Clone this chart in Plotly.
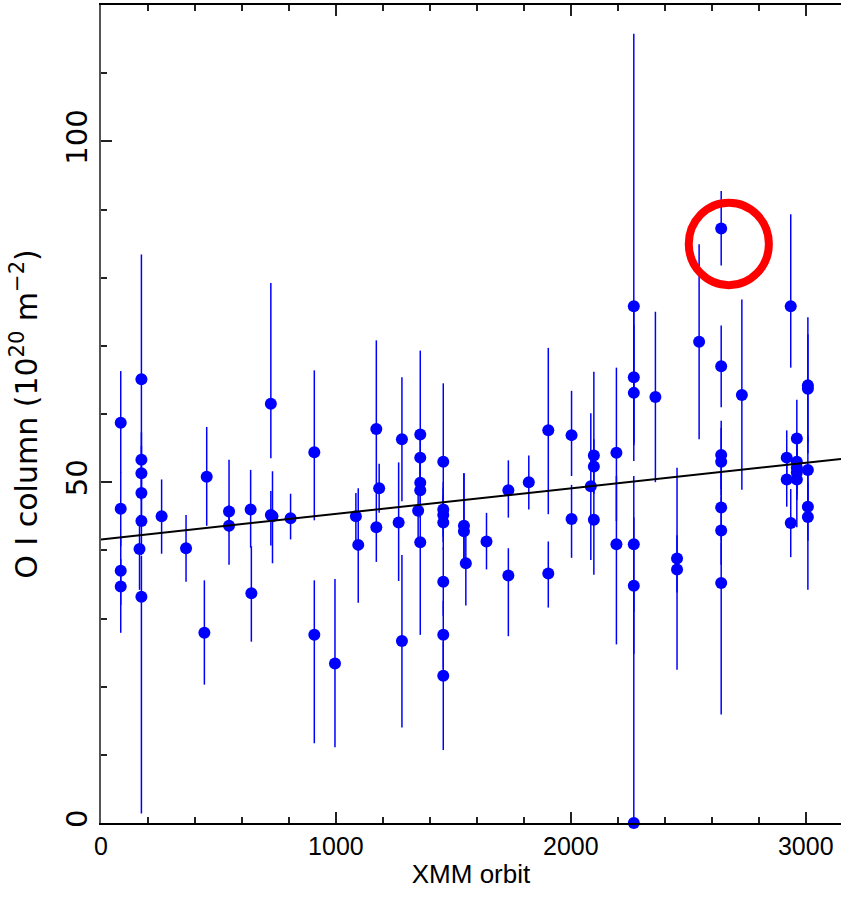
import plotly.graph_objects as go

# Observations: XMM orbit, O I column (1e20 m^-2), upper / lower error
orbit = [84, 84, 84, 84,
         172, 172, 172, 172, 172, 164, 172,
         258, 362, 450, 440, 545, 545, 637, 640,
         723, 723, 730, 807, 908, 908, 996,
         1085, 1095, 1172, 1172, 1184, 1267, 1281, 1281,
         1359, 1359, 1359, 1359, 1350, 1359,
         1457, 1457, 1457, 1457, 1457, 1457, 1457,
         1545, 1545, 1553, 1641, 1734, 1734, 1821,
         1904, 1904, 2003, 2003, 2098, 2098, 2085, 2098,
         2194, 2194, 2268, 2268, 2268, 2268, 2268, 2268,
         2360, 2452, 2452, 2546,
         2640, 2640, 2640, 2640, 2640, 2640, 2640,
         2728, 2919, 2919, 2936, 2936,
         2962, 2962, 2962, 2962, 2962,
         3009, 3009, 3009, 3009, 3009]
column = [58.7, 46.1, 37.0, 34.7,
          65.1, 53.3, 51.3, 48.4, 44.3, 40.2, 33.2,
          45.0, 40.3, 50.8, 27.9, 45.7, 43.6, 46.0, 33.7,
          61.5, 45.2, 45.0, 44.7, 54.4, 27.6, 23.4,
          45.0, 40.8, 57.8, 43.4, 49.1, 44.1, 56.3, 26.7,
          57.0, 53.6, 49.9, 48.8, 45.8, 41.2,
          53.0, 46.0, 45.2, 44.1, 35.4, 27.6, 21.6,
          43.6, 42.8, 38.1, 41.3, 48.8, 36.3, 50.0,
          57.6, 36.6, 56.9, 44.6, 53.9, 52.3, 49.4, 44.5,
          54.3, 40.9, 75.8, 65.4, 63.1, 40.9, 34.8, 0.0,
          62.5, 38.8, 37.2, 70.6,
          87.2, 67.0, 54.0, 53.0, 46.3, 42.9, 35.2,
          62.8, 53.6, 50.4, 75.8, 44.0,
          56.4, 53.0, 52.1, 51.4, 50.4,
          64.2, 63.7, 51.8, 46.4, 44.9]
err_up = [7.6, 5.4, 5.0, 4.0,
          18.3, 4.0, 4.0, 4.0, 5.0, 5.0, 6.0,
          5.4, 4.9, 7.3, 7.7, 7.6, 3.0, 5.8, 6.9,
          17.7, 3.5, 6.6, 3.6, 12.0, 8.0, 12.4,
          3.4, 8.3, 13.0, 5.0, 3.6, 8.8, 9.1, 12.6,
          12.3, 4.0, 4.0, 4.0, 4.0, 5.0,
          11.5, 4.0, 4.0, 4.0, 5.0, 5.0, 5.0,
          7.7, 8.5, 5.0, 4.2, 4.4, 4.0, 3.9,
          12.1, 4.7, 6.5, 5.0, 12.3, 4.0, 10.7, 5.0,
          12.5, 10.0, 40.0, 10.0, 10.0, 10.0, 10.0, 35.0,
          12.5, 13.3, 5.0, 14.3,
          5.5, 6.0, 5.0, 5.0, 5.0, 5.0, 6.0,
          14.0, 4.0, 4.0, 13.5, 5.0,
          5.7, 4.0, 4.0, 4.0, 4.0,
          10.0, 8.0, 5.0, 5.0, 5.0]
err_down = [7.3, 5.5, 5.0, 6.8,
            12.0, 4.0, 4.0, 4.0, 5.0, 6.0, 31.8,
            5.5, 4.9, 7.2, 7.6, 3.0, 5.7, 5.6, 7.1,
            8.0, 4.5, 6.9, 3.1, 10.0, 15.9, 12.3,
            4.0, 8.5, 8.0, 5.1, 3.6, 8.6, 9.1, 12.7,
            8.0, 4.0, 4.0, 4.0, 4.0, 13.6,
            7.0, 4.0, 4.0, 4.0, 5.0, 5.0, 10.9,
            5.0, 5.0, 6.2, 4.1, 4.0, 8.9, 4.0,
            12.3, 5.0, 6.0, 5.7, 5.0, 4.0, 10.8, 8.1,
            10.0, 14.7, 20.0, 10.0, 10.0, 10.0, 10.0, 0.0,
            12.5, 5.0, 14.7, 14.3,
            5.4, 6.0, 5.0, 5.0, 5.0, 5.0, 19.3,
            13.9, 4.0, 4.0, 9.0, 5.0,
            6.0, 4.0, 4.0, 4.0, 7.0,
            10.0, 8.0, 5.0, 5.0, 10.7]

# Linear fit line endpoints
fit_orbit = [0, 3150]
fit_column = [41.6, 53.4]

# Highlight circle (bounds in data units)
circle_x = [2502, 2843]
circle_y = [78.9, 91.0]

BLUE = "#0000ff"

fig = go.Figure()
fig.add_trace(go.Scatter(
    x=orbit, y=column, mode="markers",
    marker=dict(color=BLUE, size=12, line=dict(width=0)),
    error_y=dict(type="data", symmetric=False, array=err_up,
                 arrayminus=err_down, color=BLUE, thickness=1.5, width=0),
    showlegend=False, cliponaxis=False,
))
fig.add_trace(go.Scatter(
    x=fit_orbit, y=fit_column, mode="lines",
    line=dict(color="black", width=2), showlegend=False,
))
fig.add_shape(type="circle", xref="x", yref="y",
              x0=circle_x[0], x1=circle_x[1], y0=circle_y[0], y1=circle_y[1],
              line=dict(color="#ff0000", width=8))

fig.update_layout(
    width=841, height=912,
    margin=dict(l=101, r=0, t=5, b=89, autoexpand=False),
    paper_bgcolor="white", plot_bgcolor="white",
    font=dict(family="Liberation Sans", color="black"),
)
fig.update_xaxes(
    range=[0, 3150], showgrid=False, zeroline=False, automargin=False,
    showline=True, linecolor="black", linewidth=2, mirror="ticks",
    tickmode="array", tickvals=[0, 1000, 2000, 3000],
    ticktext=["0", "1000", "2000", "3000"],
    ticks="inside", ticklen=11, tickwidth=2, tickcolor="#222",
    minor=dict(dtick=200, tick0=0, ticks="inside", ticklen=6, tickwidth=1.5, tickcolor="#222"),
    tickfont=dict(family="Liberation Sans", size=25),
    title=dict(text="XMM orbit", font=dict(family="Liberation Sans", size=26), standoff=6),
)
fig.update_yaxes(
    range=[0, 120], showgrid=False, zeroline=False, automargin=False,
    showline=True, linecolor="#555", linewidth=2, mirror=False,
    tickmode="array", tickvals=[0, 50, 100], ticktext=["0", "50", "100"],
    tickangle=-90,
    ticks="inside", ticklen=11, tickwidth=2, tickcolor="#222",
    minor=dict(dtick=10, tick0=0, ticks="inside", ticklen=6, tickwidth=1.5, tickcolor="#222"),
    tickfont=dict(family="DejaVu Sans", size=29),
    title=dict(text="O I column (10<sup>20</sup> m<sup>\u22122</sup>)",
               font=dict(family="DejaVu Sans", size=30), standoff=14),
)

fig.write_html("out.html", config={"displayModeBar": False},
               post_script="document.body.style.margin='0';")
